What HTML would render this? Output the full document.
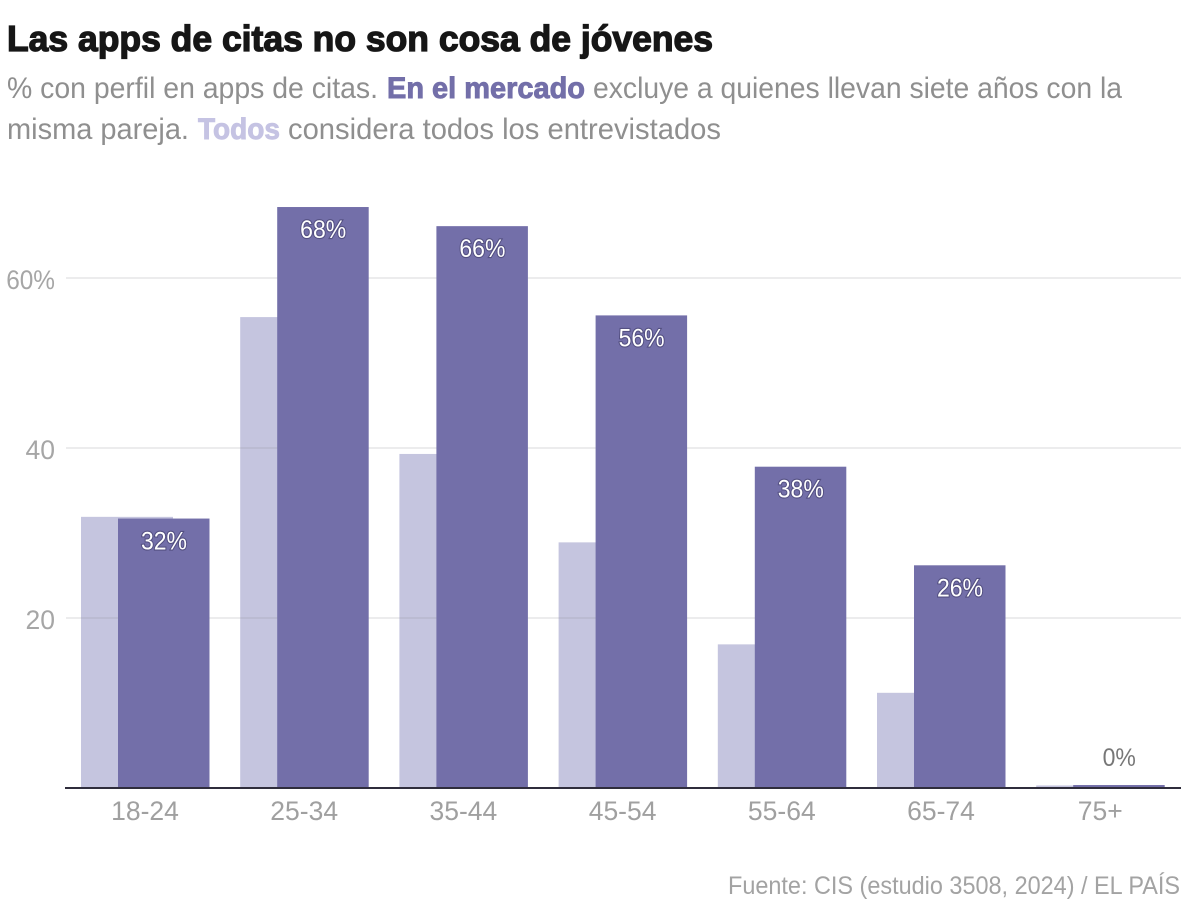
<!DOCTYPE html>
<html lang="es">
<head>
<meta charset="utf-8">
<title>Las apps de citas no son cosa de jóvenes</title>
<style>
html,body{margin:0;padding:0;background:#fff;}
svg{display:block;}
text{font-family:"Liberation Sans",sans-serif;}
</style>
</head>
<body>
<svg id="chart" width="1200" height="915" viewBox="0 0 1200 915" xmlns="http://www.w3.org/2000/svg">
  <text x="7" y="51" font-size="36" font-weight="700" fill="#161616" stroke="#161616" stroke-width="1.3" textLength="706" lengthAdjust="spacingAndGlyphs">Las apps de citas no son cosa de jóvenes</text>
  <text x="7" y="98" font-size="29.5" fill="#8f8f8f" textLength="371" lengthAdjust="spacingAndGlyphs">% con perfil en apps de citas.</text>
  <text x="387" y="98" font-size="29.5" font-weight="700" fill="#736fa9" stroke="#736fa9" stroke-width="0.9" textLength="198" lengthAdjust="spacingAndGlyphs">En el mercado</text>
  <text x="593" y="98" font-size="29.5" fill="#8f8f8f" textLength="529" lengthAdjust="spacingAndGlyphs">excluye a quienes llevan siete años con la</text>
  <text x="7" y="139" font-size="29.5" fill="#8f8f8f" textLength="182" lengthAdjust="spacingAndGlyphs">misma pareja.</text>
  <text x="198" y="139" font-size="29.5" font-weight="700" fill="#c5c3e3" stroke="#c5c3e3" stroke-width="0.9" textLength="82" lengthAdjust="spacingAndGlyphs">Todos</text>
  <text x="288" y="139" font-size="29.5" fill="#8f8f8f" textLength="433" lengthAdjust="spacingAndGlyphs">considera todos los entrevistados</text>
  <g id="plot"></g>
  <text x="1180" y="894" font-size="25" fill="#a3a3a3" text-anchor="end" textLength="452" lengthAdjust="spacingAndGlyphs">Fuente: CIS (estudio 3508, 2024) / EL PAÍS</text>
</svg>
<script>
const categories = ["18-24", "25-34", "35-44", "45-54", "55-64", "65-74", "75+"];
const todosValues = [31.9, 55.4, 39.3, 28.9, 16.9, 11.2, 0.3];
const mercadoValues = [31.7, 68.35, 66.1, 55.6, 37.8, 26.2, 0.35];
const mercadoLabels = ["32%", "68%", "66%", "56%", "38%", "26%", "0%"];
const yTicks = [20, 40, 60];
const yTickLabels = ["20", "40", "60%"];

const NS = "http://www.w3.org/2000/svg";
const plot = document.getElementById("plot");

function yScale(v) { return 788 - v * 8.5; }
function bandStart(i) { return 81 + i * 159.2; }
function todosX(i) { return bandStart(i); }
function mercadoX(i) { return bandStart(i) + 37; }
function categoryCenter(i) { return bandStart(i) + 64; }

function make(tag, attrs) {
  const el = document.createElementNS(NS, tag);
  for (const k in attrs) el.setAttribute(k, attrs[k]);
  return el;
}

// labels with a % are squeezed horizontally because the reference face has a narrower %
function fitPercent(el) {
  if (el.textContent.endsWith("%")) {
    el.setAttribute("lengthAdjust", "spacingAndGlyphs");
    el.setAttribute("textLength", el.getComputedTextLength() * 0.92);
  }
}

// light bars (behind gridlines)
todosValues.forEach(function (v, i) {
  const r = make("rect", { x: todosX(i), y: yScale(v), width: 92, height: 788 - yScale(v), fill: "#c5c5df" });
  
  
  plot.appendChild(r);
});

// gridlines and y tick labels
yTicks.forEach(function (t, i) {
  const l = make("line", { x1: 66, x2: 1181, y1: yScale(t), y2: yScale(t), stroke: "#8c8c96", "stroke-opacity": 0.17, "stroke-width": 2 });
  
  
  plot.appendChild(l);
  const tx = make("text", { x: 55, y: yScale(t) + 11, "font-size": 26.5, fill: "#a6a6a6", "text-anchor": "end" });
  
  
  tx.textContent = yTickLabels[i];
  plot.appendChild(tx);
  fitPercent(tx);
});

// dark bars
mercadoValues.forEach(function (v, i) {
  const r = make("rect", { x: mercadoX(i), y: yScale(v), width: 91.5, height: 788 - yScale(v), fill: "#736fa9" });
  
  
  plot.appendChild(r);
});

// x axis
const axis = make("line", { x1: 65, x2: 1181, y1: 788, y2: 788, stroke: "#2f2d3c", "stroke-width": 2 });


plot.appendChild(axis);

// category labels
categories.forEach(function (c, i) {
  const tx = make("text", { x: categoryCenter(i), y: 820, "font-size": 26.5, fill: "#a0a0a0", "text-anchor": "middle" });
  
  
  tx.textContent = c;
  plot.appendChild(tx);
});

// value labels
mercadoValues.forEach(function (v, i) {
  const inside = v > 5;
  const attrs = {
    x: mercadoX(i) + 46,
    y: inside ? yScale(v) + 31 : yScale(v) - 19,
    "font-size": 25,
    "text-anchor": "middle",
    fill: inside ? "#ffffff" : "#777777"
  };
  if (inside) {
    attrs.stroke = "#4c4878";
    attrs["stroke-width"] = 2.2;
    attrs["stroke-opacity"] = 0.8;
    attrs["paint-order"] = "stroke";
  }
  const tx = make("text", attrs);
  
  
  tx.textContent = mercadoLabels[i];
  plot.appendChild(tx);
  fitPercent(tx);
});
</script>
</body>
</html>
